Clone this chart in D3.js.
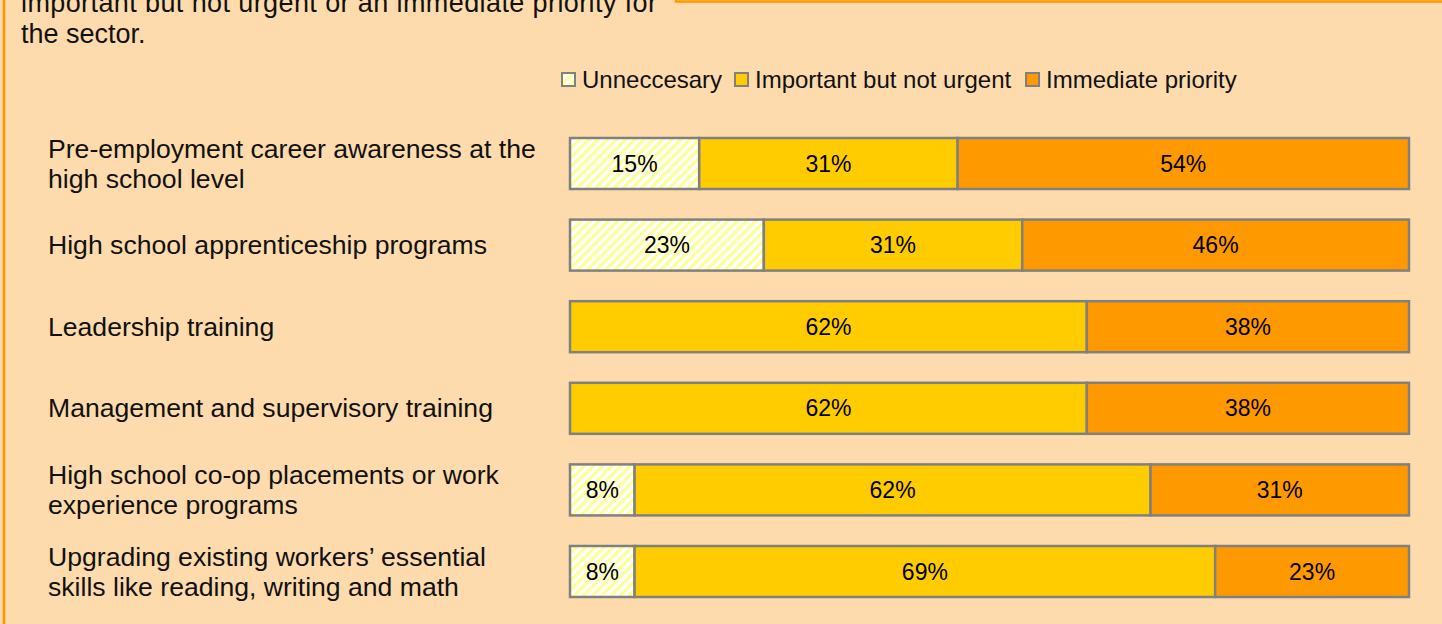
<!DOCTYPE html>
<html>
<head>
<meta charset="utf-8">
<script src="https://cdn.jsdelivr.net/npm/d3@7"></script>
<style>
  html, body { margin: 0; padding: 0; background: #fedbac; }
  svg { display: block; font-family: "Liberation Sans", Arial, sans-serif; }
</style>
</head>
<body>
<div id="root"></div>
<script>
// data
const categories = [
  "Pre-employment career awareness at the\nhigh school level",
  "High school apprenticeship programs",
  "Leadership training",
  "Management and supervisory training",
  "High school co-op placements or work\nexperience programs",
  "Upgrading existing workers\u2019 essential\nskills like reading, writing and math"
];
const seriesNames = ["Unneccesary", "Important but not urgent", "Immediate priority"];
const unnecessary = [15.4, 23.1, 0, 0, 7.7, 7.7];
const importantNotUrgent = [30.8, 30.8, 61.6, 61.6, 61.5, 69.2];
const immediatePriority = [53.8, 46.1, 38.4, 38.4, 30.8, 23.1];
const introLines = ["important but not urgent or an immediate priority for", "the sector."];

const W = 1442, H = 624;
const COLOR = ["url(#hatch)", "#ffcc00", "#ff9900"];

const svg = d3.select("#root").append("svg")
  .attr("width", W).attr("height", H);

const defs = svg.append("defs");
const pat = defs.append("pattern")
  .attr("id", "hatch")
  .attr("patternUnits", "userSpaceOnUse")
  .attr("width", 6.5).attr("height", 6.5)
  .attr("patternTransform", "rotate(45)");
pat.append("rect").attr("width", 6.5).attr("height", 6.5).attr("fill", "#ffffff");
pat.append("rect").attr("width", 3.2).attr("height", 6.5).attr("fill", "#ffff99");

// panel background + frame
svg.append("rect").attr("x", 0).attr("y", 0).attr("width", W).attr("height", H).attr("fill", "#fedbac");
svg.append("rect").attr("x", 4).attr("y", -10).attr("width", W + 20).attr("height", H + 20)
  .attr("fill", "none").attr("stroke", "#ff9900").attr("stroke-width", 2.5);
// box above on the right
svg.append("rect").attr("x", 676).attr("y", -20).attr("width", W).attr("height", 21.5)
  .attr("fill", "#fedbac").attr("stroke", "#ff9900").attr("stroke-width", 2.5);

// intro text (justified, first line runs off the top like the source)
svg.append("text").attr("x", 21).attr("y", 12)
  .attr("font-size", 27).attr("fill", "#111")
  .attr("textLength", 636).attr("lengthAdjust", "spacing")
  .text(introLines[0]);
svg.append("text").attr("x", 21).attr("y", 43)
  .attr("font-size", 27).attr("fill", "#111")
  .text(introLines[1]);

// stack
const rows = categories.map((c, i) => ({
  cat: c, s0: unnecessary[i], s1: importantNotUrgent[i], s2: immediatePriority[i]
}));
const stack = d3.stack().keys(["s0", "s1", "s2"])(rows);

const x = d3.scaleLinear().domain([0, 100]).range([570, 1409]);
const y = d3.scaleBand().domain(categories).range([138, 597]).paddingInner(0.375).paddingOuter(0);

const layers = svg.selectAll(".layer").data(stack).enter().append("g")
  .attr("class", "layer");

const segs = layers.selectAll("g.seg").data((d, k) => d.filter(p => p[1] - p[0] > 0).map(p => ({ p, k })))
  .enter().append("g").attr("class", "seg");

segs.append("rect")
  .attr("x", d => x(d.p[0]))
  .attr("y", d => y(d.p.data.cat))
  .attr("width", d => x(d.p[1]) - x(d.p[0]))
  .attr("height", y.bandwidth())
  .attr("fill", d => COLOR[d.k])
  .attr("stroke", "#808080")
  .attr("stroke-width", 2.5);

segs.append("text")
  .attr("x", d => (x(d.p[0]) + x(d.p[1])) / 2)
  .attr("y", d => y(d.p.data.cat) + y.bandwidth() / 2 + 8)
  .attr("text-anchor", "middle")
  .attr("font-size", 23)
  .attr("fill", "#000")
  .text(d => Math.round(d.p[1] - d.p[0]) + "%");

// category labels
const lab = svg.selectAll(".cat").data(categories).enter().append("text")
  .attr("class", "cat")
  .attr("font-size", 26.6).attr("fill", "#111");
lab.each(function (c) {
  const lines = c.split("\n");
  const cy = y(c) + y.bandwidth() / 2;
  const lh = 30;
  lines.forEach((ln, j) => {
    d3.select(this).append("tspan")
      .attr("x", 48)
      .attr("y", cy - (lines.length - 1) * lh / 2 + j * lh + 9)
      .text(ln);
  });
});

// legend
const legendX = [562, 735, 1026];
const lg = svg.selectAll(".lg").data(seriesNames).enter().append("g")
  .attr("class", "lg")
  .attr("transform", (d, i) => `translate(${legendX[i]},73)`);
lg.append("rect").attr("width", 13).attr("height", 13)
  .attr("fill", (d, i) => COLOR[i]).attr("stroke", "#808080").attr("stroke-width", 2);
lg.append("text").attr("x", 20).attr("y", 15)
  .attr("font-size", 24).attr("fill", "#111")
  .text(d => d);
</script>
</body>
</html>
